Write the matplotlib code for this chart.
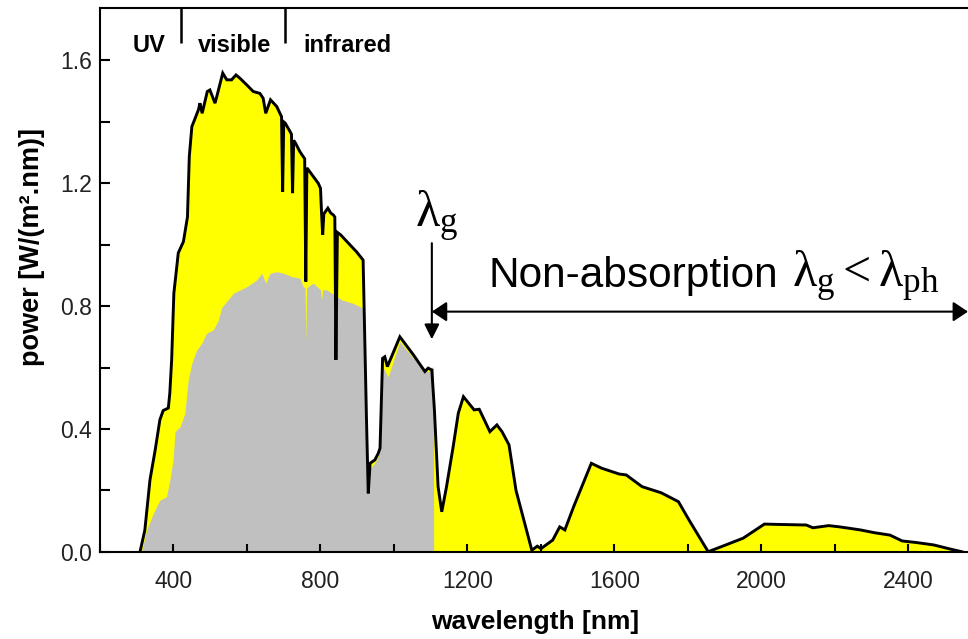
"""Solar spectrum with silicon band gap: absorbed (gray) vs non-absorbed (yellow) part."""
import matplotlib
matplotlib.use("Agg")
import matplotlib.pyplot as plt
from matplotlib.ticker import MultipleLocator, FuncFormatter

plt.rcParams["font.family"] = ["Liberation Sans", "DejaVu Sans"]
plt.rcParams["mathtext.fontset"] = "custom"
plt.rcParams["mathtext.rm"] = "Liberation Serif"
plt.rcParams["mathtext.it"] = "Liberation Serif"

# full spectrum outline (nm, W/(m^2 nm))
wl = [309, 322, 336, 350, 363, 372, 386, 390, 395, 401, 407, 413, 427, 438, 443, 450,
      459, 468, 472, 478, 492, 499, 513, 519, 534, 545, 558, 570, 581, 599, 617, 635,
      644, 651, 664, 681, 694, 697, 700, 704, 717, 721, 724, 727, 732, 744, 753, 757,
      760, 763, 767, 794, 800, 803, 806, 809, 820, 828, 835, 839, 842, 846, 855, 876,
      898, 916, 925, 930, 935, 948, 957, 962, 969, 975, 982, 1016, 1053, 1084, 1093,
      1103, 1110, 1120, 1130, 1143, 1161, 1175, 1189, 1218, 1232, 1261, 1280, 1294,
      1313, 1332, 1375, 1390, 1400, 1432, 1451, 1465, 1489, 1537, 1565, 1613, 1632,
      1675, 1727, 1774, 1803, 1855, 1879, 1950, 2008, 2041, 2122, 2140, 2183, 2212,
      2269, 2307, 2350, 2383, 2421, 2469, 2516, 2545]
power = [0.0, 0.07, 0.234, 0.33, 0.43, 0.46, 0.468, 0.517, 0.625, 0.842, 0.907, 0.973,
         1.01, 1.09, 1.287, 1.385, 1.412, 1.44, 1.461, 1.428, 1.499, 1.504, 1.461, 1.488,
         1.559, 1.537, 1.537, 1.553, 1.542, 1.521, 1.499, 1.493, 1.477, 1.428, 1.472,
         1.45, 1.417, 1.173, 1.40, 1.396, 1.369, 1.36, 1.168, 1.34, 1.331, 1.303, 1.287,
         1.28, 0.88, 1.25, 1.244, 1.2, 1.184, 1.10, 1.032, 1.10, 1.119, 1.103, 1.097,
         1.09, 0.625, 1.04, 1.032, 1.005, 0.977, 0.95, 0.44, 0.19, 0.288, 0.299, 0.32,
         0.337, 0.63, 0.635, 0.603, 0.70, 0.641, 0.587, 0.598, 0.592, 0.462, 0.212,
         0.13, 0.212, 0.342, 0.451, 0.505, 0.462, 0.464, 0.391, 0.413, 0.391, 0.348,
         0.20, 0.005, 0.018, 0.01, 0.038, 0.081, 0.071, 0.147, 0.288, 0.272, 0.253,
         0.25, 0.212, 0.192, 0.163, 0.103, 0.0, 0.011, 0.044, 0.09, 0.089, 0.087, 0.078,
         0.085, 0.081, 0.071, 0.062, 0.054, 0.035, 0.03, 0.022, 0.008, 0.0]

# part absorbed by the cell (up to the band gap)
wl_abs = [313, 327, 345, 363, 381, 390, 399, 404, 418, 431, 440, 450, 463, 477, 490,
          508, 522, 531, 563, 599, 626, 640, 651, 663, 681, 699, 722, 744, 753, 758,
          760, 762, 780, 800, 803, 806, 817, 830, 836, 842, 846, 858, 889, 916, 925,
          930, 935, 948, 957, 962, 969, 984, 1016, 1053, 1093, 1107, 1108]
power_abs = [0.0, 0.071, 0.125, 0.168, 0.179, 0.234, 0.299, 0.391, 0.407, 0.451, 0.56,
             0.614, 0.657, 0.679, 0.712, 0.722, 0.755, 0.795, 0.842, 0.863, 0.885, 0.907,
             0.875, 0.907, 0.912, 0.907, 0.896, 0.891, 0.863, 0.86, 0.684, 0.86, 0.875,
             0.853, 0.82, 0.853, 0.853, 0.842, 0.84, 0.625, 0.83, 0.82, 0.809, 0.793,
             0.44, 0.19, 0.27, 0.29, 0.31, 0.336, 0.603, 0.57, 0.684, 0.63, 0.586, 0.603,
             0.0]

band_edges = [420, 703]
band_names = ["UV", "visible", "infrared"]
band_centers = [333, 565, 872]
lambda_g = 1103

fig = plt.figure(figsize=(9.68, 6.39), dpi=100)
ax = fig.add_axes([0.1033, 0.1366, 0.8967, 0.8504])

ax.fill_between(wl, 0, power, color="#FFFF00", lw=0)
ax.fill_between(wl_abs, 0, power_abs, color="#C0C0C0", lw=0)
ax.plot(wl, power, color="black", lw=2.1, solid_joinstyle="miter")

ax.set_xlim(200, 2562)
ax.set_ylim(0, 1.77)

ax.spines["right"].set_visible(False)
for s in ("left", "top", "bottom"):
    ax.spines[s].set_linewidth(1.5)

ax.xaxis.set_major_locator(MultipleLocator(400))
ax.xaxis.set_minor_locator(MultipleLocator(200))
ax.yaxis.set_major_locator(MultipleLocator(0.4))
ax.yaxis.set_minor_locator(MultipleLocator(0.2))
ax.yaxis.set_major_formatter(FuncFormatter(lambda v, p: f"{v:.1f}"))
ax.tick_params(axis="x", which="both", direction="in", length=6, width=1.5,
               labelsize=16.5, pad=13, labelcolor="#222222", top=False)
ax.tick_params(axis="y", which="both", direction="in", length=7, width=1.5,
               labelsize=16.5, pad=6, labelcolor="#222222", right=False)
ax.set_xticks(list(range(400, 2600, 400)))

# UV / visible / infrared bands along the top
ax.vlines(band_edges, 1.657, 1.77, color="black", lw=1.8)
for name, c in zip(band_names, band_centers):
    ax.text(c, 1.628, name, ha="center", va="baseline", fontsize=17, fontweight="bold")

# band-gap arrow and non-absorption range
ax.annotate("", xy=(lambda_g, 0.692), xytext=(lambda_g, 1.005),
            arrowprops=dict(arrowstyle="-|>,head_length=9,head_width=4.5", color="black",
                            lw=1.5, shrinkA=0, shrinkB=0, mutation_scale=1))
ax.annotate("", xy=(lambda_g, 0.782), xytext=(2562, 0.782), annotation_clip=False,
            arrowprops=dict(arrowstyle="<|-|>,head_length=9,head_width=6", color="black",
                            lw=1.5, shrinkA=0, shrinkB=0, mutation_scale=1))
ax.text(1057, 1.058, r"$\lambda_{g}$", fontsize=36, ha="left", va="baseline")
ax.text(1258, 0.8625, "Non-absorption", fontsize=30.5, ha="left", va="baseline")
ax.text(2084, 0.8625, r"$\lambda_{g}<\lambda_{ph}$", fontsize=36, ha="left",
        va="baseline", clip_on=False)

fig.text(0.033, 0.6135, "power [W/(m\u00b2.nm)]", rotation=90, ha="center", va="center",
         fontsize=19.5, fontweight="bold")
fig.text(0.5527, 0.016, "wavelength [nm]", ha="center", va="baseline",
         fontsize=19, fontweight="bold")

fig.savefig("out.png", dpi=100)
